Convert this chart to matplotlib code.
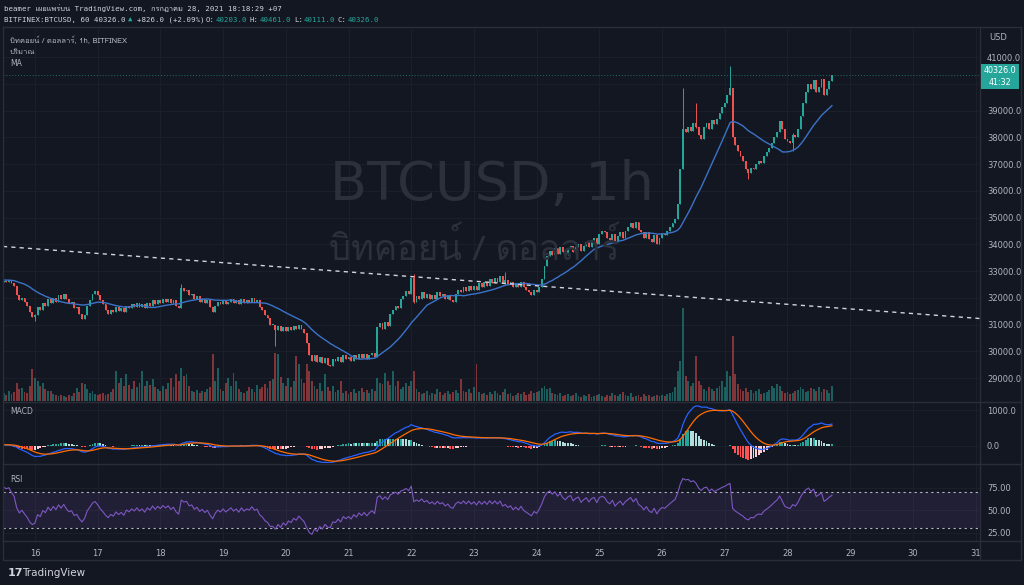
import numpy as np
import pandas as pd
import matplotlib
matplotlib.use("Agg")
import matplotlib.pyplot as plt
from matplotlib import font_manager
from matplotlib.ft2font import FT2Font
from matplotlib.lines import Line2D

# hourly closes, one list per day; the 15th 00:00-11:00 is off screen (indicator warm-up)
close_15_pre = [32550, 32700, 32600, 32750, 32650, 32800, 32700, 32650, 32750, 32600, 32700, 32600]
close_15 = [32620, 32580, 32650, 32540, 32450, 32100, 31900, 32000, 31850, 31700, 31450, 31300]
close_16 = [31350, 31650, 31550, 31800, 31700, 31950, 31800, 32000, 31850, 32100, 31950, 32150,
            31950, 31800, 31850, 31600, 31650, 31400, 31200, 31350, 31700, 31900, 32150, 32250]
close_17 = [32100, 31900, 31750, 31550, 31400, 31550, 31450, 31650, 31500, 31600, 31450, 31700,
            31600, 31750, 31650, 31800, 31650, 31750, 31600, 31800, 31700, 31900, 31750, 31900]
close_18 = [31800, 31950, 31850, 31950, 31800, 31900, 31700, 31600, 32350, 32250, 32300, 32100,
            32150, 31950, 32050, 31850, 31950, 31800, 31900, 31650, 31450, 31700, 31850, 31750]
close_19 = [31900, 31750, 31850, 31950, 31800, 31900, 31750, 31950, 31800, 31900, 31850, 32000,
            31850, 31900, 31650, 31550, 31350, 31250, 31000, 31000, 30800, 30950, 30750, 30900]
close_20 = [30750, 30900, 30800, 30950, 30850, 31000, 30850, 30700, 30300, 29850, 29650, 29850,
            29600, 29800, 29550, 29750, 29500, 29450, 29700, 29650, 29800, 29600, 29850, 29700]
close_21 = [29800, 29650, 29850, 29700, 29900, 29750, 29900, 29700, 29850, 29950, 29800, 30900,
            31050, 30850, 31100, 30950, 31400, 31550, 31700, 31600, 31950, 32050, 32250, 32150]
close_22 = [32750, 31850, 32050, 31950, 32200, 32000, 32150, 31950, 32100, 31950, 32200, 32050,
            32150, 31950, 32100, 31900, 31850, 32150, 32300, 32200, 32400, 32250, 32450, 32300]
close_23 = [32450, 32300, 32550, 32400, 32600, 32450, 32700, 32550, 32750, 32600, 32800, 32550,
            32650, 32500, 32600, 32400, 32550, 32400, 32600, 32400, 32300, 32200, 32100, 32300]
close_24 = [32200, 32400, 32700, 33200, 33550, 33750, 33600, 33850, 33650, 33900, 33700, 33600,
            33850, 33950, 33700, 33900, 34000, 33750, 33950, 34100, 33900, 34150, 34250, 34000]
close_25 = [34400, 34500, 34450, 34250, 34150, 34400, 34100, 34300, 34450, 34250, 34500, 34650,
            34800, 34600, 34850, 34550, 34450, 34250, 34450, 34200, 34100, 34350, 34000, 34250]
close_26 = [34400, 34350, 34500, 34650, 34800, 34950, 35500, 36800, 38300, 38200, 38400, 38250,
            38550, 38400, 38100, 37950, 38400, 38550, 38300, 38650, 38500, 38700, 38900, 39150]
close_27 = [39300, 39600, 39850, 38000, 37700, 37500, 37300, 37100, 36800, 36650, 36850, 36800,
            37000, 37100, 37050, 37300, 37450, 37600, 37800, 38000, 38200, 38600, 38300, 37950]
close_28 = [37850, 37800, 38100, 38000, 38300, 38800, 39300, 39700, 40000, 39800, 40150, 39700,
            39900, 40200, 39600, 39800, 40100, 40326]

# notable wicks: (day, hour) -> (high, low)
wicks = {
    (16, 0): (31400, 31150),
    (18, 8): (32500, 31600),
    (19, 20): (30950, 30200),
    (22, 1): (32900, 31800),
    (23, 12): (32950, 32500),
    (26, 8): (39840, 36800),
    (26, 13): (39300, 38350),
    (27, 2): (40660, 39600),
    (27, 9): (36800, 36450),
    (28, 2): (38150, 37500),
}

# volume, same layout as the visible closes
vol_15 = [8, 6, 10, 7, 9, 18, 12, 13, 9, 8, 15, 32]
vol_16 = [23, 20, 15, 18, 12, 10, 10, 7, 6, 5, 6, 5, 4, 6, 5, 8, 13, 9, 18, 17, 12, 8, 10, 7]
vol_17 = [6, 7, 8, 6, 7, 9, 12, 30, 18, 23, 15, 27, 16, 12, 20, 14, 18, 30, 15, 20, 16, 22, 14, 12]
vol_18 = [10, 15, 12, 18, 23, 14, 27, 20, 33, 25, 27, 15, 10, 9, 11, 8, 10, 9, 12, 14, 47, 20, 33, 12]
vol_19 = [10, 18, 23, 15, 28, 20, 12, 9, 8, 10, 14, 12, 9, 16, 12, 14, 17, 13, 20, 22, 48, 47, 24, 18]
vol_20 = [15, 23, 14, 20, 45, 37, 22, 18, 37, 30, 20, 15, 12, 18, 10, 27, 14, 10, 15, 9, 11, 20, 8, 10]
vol_21 = [7, 9, 12, 8, 10, 13, 9, 11, 8, 12, 10, 23, 18, 17, 28, 20, 16, 30, 15, 20, 12, 14, 18, 15]
vol_22 = [20, 30, 12, 9, 7, 8, 10, 6, 8, 7, 12, 9, 6, 8, 10, 7, 9, 11, 8, 22, 10, 9, 12, 8]
vol_23 = [14, 37, 9, 7, 8, 6, 9, 7, 10, 8, 6, 9, 12, 7, 8, 5, 6, 8, 7, 9, 6, 7, 10, 8]
vol_24 = [9, 10, 13, 15, 12, 13, 8, 7, 6, 8, 5, 6, 7, 5, 6, 8, 5, 4, 6, 5, 7, 4, 5, 6]
vol_25 = [7, 5, 4, 6, 5, 8, 6, 5, 7, 9, 6, 5, 8, 4, 5, 6, 4, 7, 5, 6, 4, 5, 6, 5]
vol_26 = [6, 5, 7, 8, 9, 14, 30, 40, 93, 25, 20, 15, 18, 45, 20, 16, 12, 10, 14, 12, 10, 13, 15, 20]
vol_27 = [14, 30, 25, 65, 27, 17, 12, 10, 13, 9, 11, 8, 10, 12, 7, 8, 9, 11, 15, 13, 17, 15, 10, 8]
vol_28 = [9, 7, 8, 10, 11, 14, 12, 9, 10, 13, 12, 10, 14, 9, 12, 11, 8, 15]

# hand drawn trend line (day, price)
trend_t = [15.49, 31.07]
trend_p = [33920, 31225]

price_ticks = list(range(29000, 41001, 1000))
day_ticks = list(range(16, 32))
last_price = 40326.0

# colours
BG = "#131722"
GRID = "#1c202b"
BORDER = "#2a2e39"
TXT = "#b2b5be"
LIGHT = "#d1d4dc"
UP = "#26a69a"
DOWN = "#ef5350"


def find_thai_font():
    for f in font_manager.fontManager.ttflist:
        try:
            if 0x0E1A in FT2Font(f.fname).get_charmap():
                return f.name
        except Exception:
            pass
    return None


thai = find_thai_font()
sans = ["DejaVu Sans"] + ([thai] if thai else [])
thai_first = ([thai] if thai else []) + ["DejaVu Sans"]
mono = ["DejaVu Sans Mono"] + ([thai] if thai else [])

# assemble candles
close_all = np.array(close_15_pre + close_15 + close_16 + close_17 + close_18 + close_19
                     + close_20 + close_21 + close_22 + close_23 + close_24 + close_25
                     + close_26 + close_27 + close_28, float)
vol = np.array(vol_15 + vol_16 + vol_17 + vol_18 + vol_19 + vol_20 + vol_21
               + vol_22 + vol_23 + vol_24 + vol_25 + vol_26 + vol_27 + vol_28, float)
k = len(close_15_pre)
close = close_all[k:]
n = len(close)
t = 15.5 + np.arange(n) / 24
open_ = close_all[k - 1:-1]
high = np.maximum(open_, close)
low = np.minimum(open_, close)
for (d, h), (hi, lo) in wicks.items():
    i = int(round((d + h / 24 - 15.5) * 24))
    high[i] = max(high[i], hi)
    low[i] = min(low[i], lo)
up = close >= open_
cols = np.where(up, UP, DOWN)

# indicators on the full series, then cut to the visible part
s = pd.Series(close_all)
ma = s.rolling(20, min_periods=1).mean().values[k:]
macd_s = s.ewm(span=12, adjust=False).mean() - s.ewm(span=26, adjust=False).mean()
signal_s = macd_s.ewm(span=9, adjust=False).mean()
hist_all = (macd_s - signal_s).values
prev = np.concatenate([[0], hist_all[:-1]])
hcols_all = np.where(hist_all >= 0, np.where(hist_all >= prev, "#26a69a", "#b2dfdb"),
                     np.where(hist_all < prev, "#ff5252", "#ffcdd2"))
macd = macd_s.values[k:]
signal = signal_s.values[k:]
hist = hist_all[k:]
hcols = hcols_all[k:]
delta = s.diff()
gain = delta.clip(lower=0).ewm(alpha=1 / 14, adjust=False).mean()
loss = (-delta.clip(upper=0)).ewm(alpha=1 / 14, adjust=False).mean()
rsi = (100 - 100 / (1 + gain / loss)).values[k:]

W, H = 1024, 585
fig = plt.figure(figsize=(W / 100, H / 100), dpi=100, facecolor=BG)


def box(x0, y0, x1, y1):
    return [x0 / W, 1 - y1 / H, (x1 - x0) / W, (y1 - y0) / H]


def ftext(x, y, txt, **kw):
    kw.setdefault("va", "center")
    fig.text(x / W, 1 - y / H, txt, **kw)


ax = fig.add_axes(box(3, 28, 980, 401))
mx = fig.add_axes(box(3, 402, 980, 463), sharex=ax)
rx = fig.add_axes(box(3, 464, 980, 541), sharex=ax)

for a in (ax, mx, rx):
    a.set_facecolor(BG)
    for sp in a.spines.values():
        sp.set_visible(False)
    a.set_xticks(day_ticks)
    a.grid(True, color=GRID, lw=0.7)
    a.set_axisbelow(True)
    a.yaxis.tick_right()
    a.tick_params(length=0, labelsize=6, labelcolor=TXT, pad=5)
ax.set_xlim(15.49, 31.07)
ax.tick_params(labelbottom=False)
mx.tick_params(labelbottom=False)

# main pane
ax.set_ylim(28140, 42090)
ax.set_yticks(price_ticks)
# 40000.0 sits under the last-price label
ax.set_yticklabels(["" if p == 40000 else f"{p:.1f}" for p in price_ticks], family=sans)
ax.bar(t, vol / 373, width=0.72 / 24, color=cols, alpha=0.5, lw=0,
       transform=ax.get_xaxis_transform(), zorder=1)
ax.vlines(t, low, high, colors=cols, lw=0.7, zorder=3)
ax.bar(t, np.maximum(np.abs(close - open_), 20), bottom=np.minimum(open_, close),
       width=0.72 / 24, color=cols, lw=0, zorder=4)
ax.plot(t, ma, color="#3b73c8", lw=1, zorder=5)
ax.plot(trend_t, trend_p, color="#d1d4dc", lw=1, ls=(0, (3, 3)), zorder=5)
ax.axhline(last_price, color=UP, lw=0.7, ls=(0, (1, 2)), alpha=0.6, zorder=2)

# MACD pane
mx.set_ylim(-486, 1229)
mx.set_yticks([0, 1000])
mx.set_yticklabels(["0.0", "1000.0"], family=sans)
mx.bar(t, hist, width=0.72 / 24, color=hcols, lw=0, zorder=2)
mx.plot(t, macd, color="#2962ff", lw=0.9, zorder=3)
mx.plot(t, signal, color="#ff6d00", lw=0.9, zorder=3)

# RSI pane
rx.set_ylim(15.9, 101)
rx.set_yticks([25, 50, 75])
rx.set_yticklabels(["25.00", "50.00", "75.00"], family=sans)
rx.axhspan(30, 70, color="#7e57c2", alpha=0.13, lw=0)
rx.axhline(70, color="#b2b5be", lw=0.8, ls=(0, (2, 3)))
rx.axhline(30, color="#b2b5be", lw=0.8, ls=(0, (2, 3)))
rx.plot(t, rsi, color="#7e57c2", lw=0.8)
rx.set_xticklabels([str(d) for d in day_ticks], family=sans)
rx.tick_params(axis="x", pad=6)

# frame and separators
for (x0, y0, x1, y1) in [(3, 401.5, 1021, 401.5), (3, 463.5, 1021, 463.5), (3, 541, 1021, 541),
                         (3, 560, 1021, 560), (3, 27, 1021, 27), (980, 27, 980, 560),
                         (3, 27, 3, 560), (1021, 27, 1021, 560)]:
    fig.add_artist(Line2D([x0 / W, x1 / W], [1 - y0 / H, 1 - y1 / H], color=BORDER, lw=1))

# watermark
ftext(492, 185, "BTCUSD, 1h", ha="center", fontsize=39, color="#2c303b", family=sans)
ftext(474, 248, "บิทคอยน์ / ดอลลาร์", ha="center", fontsize=25, color="#2c303b", family=thai_first)

# header (monospace, ~4.43 px per character)
ftext(4, 8, "beamer เผยแพร่บน TradingView.com, กรกฎาคม 28, 2021 18:18:29 +07",
      fontsize=5.3, color=LIGHT, family=mono)
for x, txt, c in [(4, "BITFINEX:BTCUSD, 60 40326.0", LIGHT), (128, "▲", UP),
                  (137, "+826.0 (+2.09%)", LIGHT), (206, "O:", LIGHT), (216, "40203.0", UP),
                  (250, "H:", LIGHT), (260, "40461.0", UP), (294, "L:", LIGHT),
                  (304, "40111.0", UP), (338, "C:", LIGHT), (348, "40326.0", UP)]:
    ftext(x, 20, txt, fontsize=5.3, color=c, family=mono)

# pane legends
ftext(10, 41, "บิทคอยน์ / ดอลลาร์, 1h, BITFINEX", fontsize=5.5, color=TXT, family=thai_first)
ftext(10, 52, "ปริมาณ", fontsize=5.5, color=TXT, family=thai_first)
ftext(10, 63, "MA", fontsize=5.5, color=TXT, family=sans)
ftext(10, 411, "MACD", fontsize=5.5, color=TXT, family=sans)
ftext(10, 479, "RSI", fontsize=5.5, color=TXT, family=sans)
ftext(998, 38, "USD", ha="center", fontsize=6, color=TXT, family=sans)

# last price label
ftext(1000, 76.5, "40326.0\n41:32", ha="center", fontsize=5.8, color="white", family=sans,
      linespacing=1.3,
      bbox=dict(boxstyle="square,pad=0.35", fc=UP, ec="none"))

# footer
ftext(8, 573, "17", fontsize=8, fontweight="bold", color=LIGHT, family=sans)
ftext(22, 573, "TradingView", fontsize=7.5, color=LIGHT, family=sans)

fig.savefig("out.png", dpi=100, facecolor=BG)
